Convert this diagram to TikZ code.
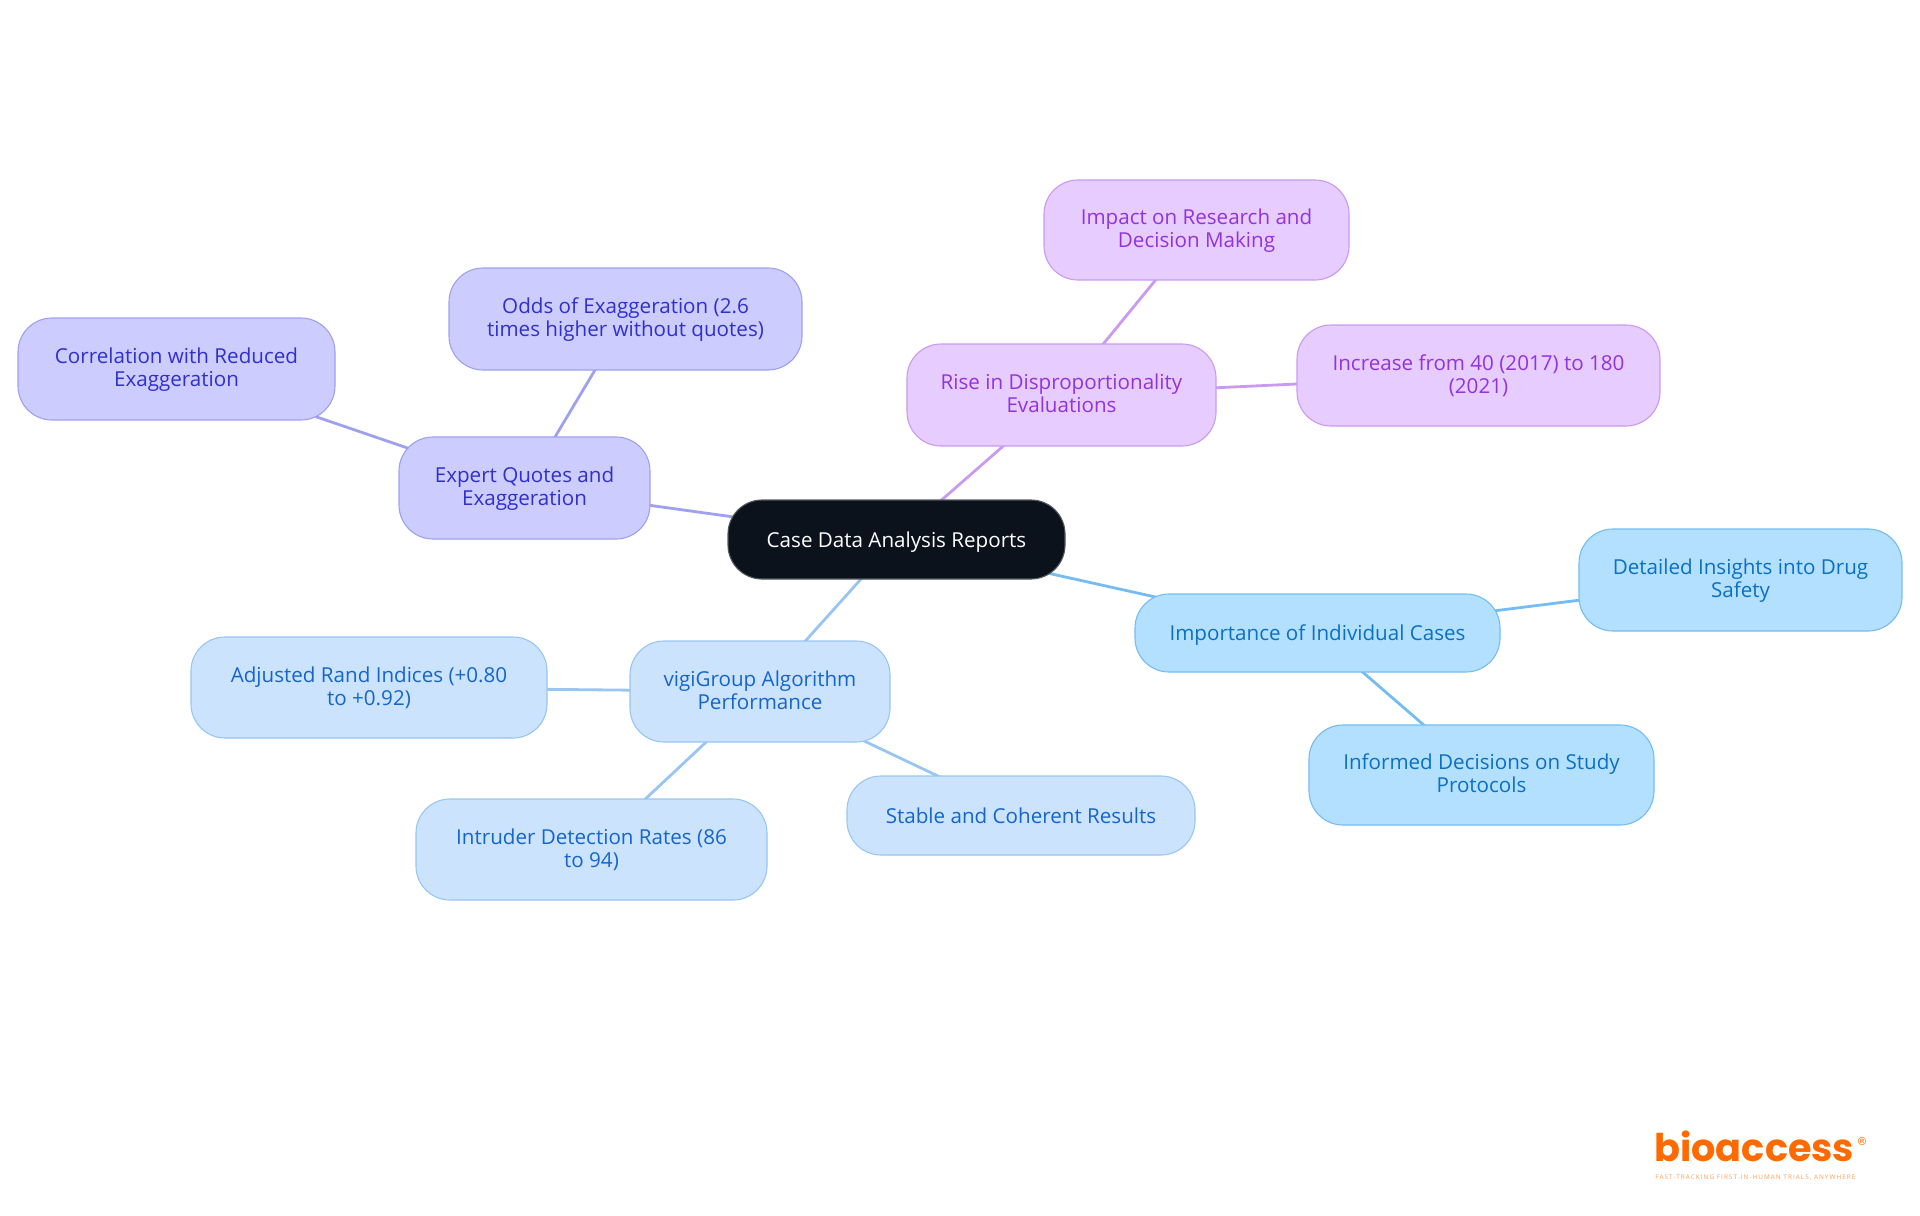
\documentclass[tikz,border=0pt]{standalone}
\usepackage{fontspec}
\setmainfont{Open Sans}
\usetikzlibrary{backgrounds}
\definecolor{purF}{HTML}{E6CCFF}\definecolor{purD}{HTML}{C99AF0}\definecolor{purT}{HTML}{9333DD}
\definecolor{vioF}{HTML}{CCCCFF}\definecolor{vioD}{HTML}{A0A0F0}\definecolor{vioT}{HTML}{3030CC}
\definecolor{bluF}{HTML}{CCE3FD}\definecolor{bluD}{HTML}{99C5F2}\definecolor{bluT}{HTML}{1566CC}
\definecolor{skyF}{HTML}{B4E0FF}\definecolor{skyD}{HTML}{74BCF2}\definecolor{skyT}{HTML}{0A70C4}
\definecolor{rootF}{HTML}{0B121B}\definecolor{logoO}{HTML}{FF6A00}
\tikzset{
  wh/.style 2 args={minimum width=#1*0.5pt,minimum height=#2*0.5pt},
  box/.style={rounded corners=17pt,line width=0.55pt,align=center,inner sep=0pt,
    font=\fontsize{10.3}{11.5}\selectfont,
    execute at begin node={\rule{0pt}{11pt}},execute at end node=\strut},
  tworows/.style={execute at begin node={\rule{0pt}{21.4pt}}},
  pur/.style={box,fill=purF,draw=purD,text=purT},
  vio/.style={box,fill=vioF,draw=vioD,text=vioT},
  blu/.style={box,fill=bluF,draw=bluD,text=bluT},
  sky/.style={box,fill=skyF,draw=skyD,text=skyT},
  rootbox/.style={box,fill=rootF,draw=rootF!70!white,text=white},
  link/.style={line width=1.4pt},
  logotext/.style={anchor=base west,inner sep=0pt},
}
\begin{document}
\begin{tikzpicture}[x=0.5pt,y=-0.5pt]
\useasboundingbox (0,0) rectangle (1920,1215);
\node[rootbox,wh={337}{79}] (root) at (896.5,539.5) {Case Data Analysis Reports};
\node[pur,tworows,wh={309}{102}] (rise) at (1061.5,395) {Rise in Disproportionality\\Evaluations};
\node[pur,tworows,wh={305}{100}] (impact) at (1196.5,230) {Impact on Research and\\Decision Making};
\node[pur,tworows,wh={363}{101}] (incr) at (1478.5,375.5) {Increase from 40 (2017) to 180\\(2021)};
\node[sky,wh={365}{78}] (imp) at (1317.5,633) {Importance of Individual Cases};
\node[sky,tworows,wh={323}{102}] (det) at (1740.5,580) {Detailed Insights into Drug\\Safety};
\node[sky,tworows,wh={345}{100}] (inf) at (1481.5,775) {Informed Decisions on Study\\Protocols};
\node[blu,tworows,wh={260}{101}] (vigi) at (760,691.5) {vigiGroup Algorithm\\Performance};
\node[blu,tworows,wh={356}{101}] (adj) at (369,687.5) {Adjusted Rand Indices (+0.80\\to +0.92)};
\node[blu,tworows,wh={351}{101}] (intr) at (591.5,849.5) {Intruder Detection Rates (86\\to 94)};
\node[blu,wh={348}{79}] (stab) at (1021,815.5) {Stable and Coherent Results};
\node[vio,tworows,wh={251}{102}] (exp) at (524.5,488) {Expert Quotes and\\Exaggeration};
\node[vio,tworows,wh={353}{102}] (odds) at (625.5,319) {Odds of Exaggeration (2.6\\times higher without quotes)};
\node[vio,tworows,wh={317}{102}] (corr) at (176.5,369) {Correlation with Reduced\\Exaggeration};
\begin{pgfonlayer}{background}
\draw[link,purD] (root.center) -- (rise.center);
\draw[link,purD] (rise.center) -- (impact.center);
\draw[link,purD] (rise.center) -- (incr.center);
\draw[link,skyD] (root.center) -- (imp.center);
\draw[link,skyD] (imp.center) -- (det.center);
\draw[link,skyD] (imp.center) -- (inf.center);
\draw[link,bluD] (root.center) -- (vigi.center);
\draw[link,bluD] (vigi.center) -- (adj.center);
\draw[link,bluD] (vigi.center) -- (intr.center);
\draw[link,bluD] (vigi.center) -- (stab.center);
\draw[link,vioD] (root.center) -- (exp.center);
\draw[link,vioD] (exp.center) -- (odds.center);
\draw[link,vioD] (exp.center) -- (corr.center);
\end{pgfonlayer}
\node[logotext,text=logoO] (logo) at (1654,1161) {\fontspec{Poppins}\fontsize{19.1}{20}\selectfont\bfseries bioaccess};
\node[logotext,text=logoO!65!white] (tag) at (1655,1179.5) {\fontspec{Open Sans}[LetterSpace=16]\fontsize{3.2}{4}\selectfont FAST-TRACKING FIRST-IN-HUMAN TRIALS, ANYWHERE};
\node[inner sep=0pt,text=logoO] (reg) at (1862,1141) {\fontspec{DejaVu Sans}\fontsize{5.5}{6}\selectfont ®};
\end{tikzpicture}
\end{document}
